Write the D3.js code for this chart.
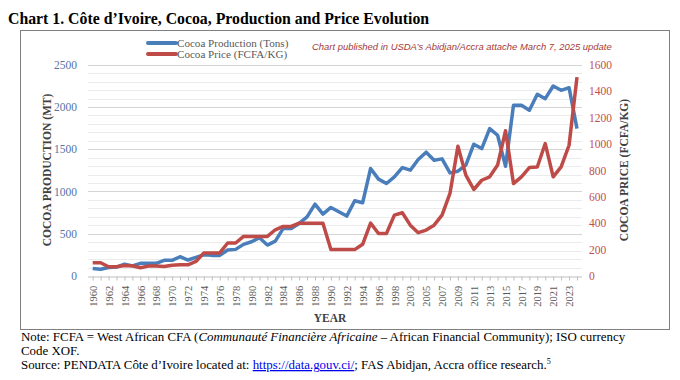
<!DOCTYPE html>
<html><head><meta charset="utf-8">
<script src="https://cdn.jsdelivr.net/npm/d3@7"></script>
<style>
body{margin:0;background:#fff;}
svg{display:block;}
</style></head>
<body>
<svg id="c" width="680" height="380"></svg>
<script>
const years = ["1960","1961","1962","1963","1964","1965","1966","1967","1968","1969",
"1970","1971","1972","1973","1974","1975","1976","1977","1978","1979",
"1980","1981","1982","1983","1984","1985","1986","1987","1988","1989",
"1990","1991","1992","1993","1994","1995","1996","1997","1998","1999",
"2003","2004","2005","2006","2007","2008","2009","2010","2011","2012",
"2013","2014","2015","2016","2017","2018","2019","2020","2021","2022","2023","2024"];
const production = [90,80,100,105,140,120,150,150,150,185,
185,228,189,220,250,244,244,307,315,374,
405,453,366,413,563,563,622,700,850,732,
811,760,709,890,866,1272,1146,1094,1173,1283,
1252,1378,1465,1370,1386,1220,1240,1311,1559,1508,
1744,1665,1299,2020,2020,1961,2150,2098,2248,2197,2228,1744];
const price = [100,100,70,70,80,78,62,75,75,72,
82,85,85,110,175,175,175,250,250,300,
300,300,300,350,375,375,400,400,400,400,
200,200,200,200,240,400,322,322,461,479,
385,328,348,385,461,625,983,764,655,725,
751,840,1100,700,751,821,825,1003,751,826,990,1506];
const leftTicks = [0,500,1000,1500,2000,2500];
const rightTicks = [0,200,400,600,800,1000,1200,1400,1600];
const seriesNames = ["Cocoa Production (Tons)","Cocoa Price (FCFA/KG)"];

const svg = d3.select("#c");
const serif = "'Liberation Serif','Times New Roman',serif";
const BLUE = "#4a7ebb", RED = "#be4b48";
const x0 = 92.7, x1 = 577, yTop = 64.7, yBot = 276;

const x = d3.scalePoint().domain(years).range([x0, x1]);
const yL = d3.scaleLinear().domain([0,2500]).range([yBot, yTop]);
const yR = d3.scaleLinear().domain([0,1600]).range([yBot, yTop]);

// title
svg.append("text").attr("x",8).attr("y",24).attr("font-family",serif)
  .attr("font-weight","bold").attr("font-size",15.8).attr("fill","#000")
  .text("Chart 1. Côte d’Ivoire, Cocoa, Production and Price Evolution");

// box
svg.append("rect").attr("x",20.5).attr("y",30.5).attr("width",649).attr("height",299)
  .attr("fill","none").attr("stroke","#7f7f7f").attr("stroke-width",1);

// gridlines
const gridVals = d3.range(100,2501,100);
svg.append("g").selectAll("line").data(gridVals).join("line")
  .attr("x1",88).attr("x2",582)
  .attr("y1",d=>Math.round(yL(d))+0.5).attr("y2",d=>Math.round(yL(d))+0.5)
  .attr("stroke",d=>d%500===0?"#d4d4d4":"#ebebeb").attr("stroke-width",1);

// x axis line & ticks
const gx = svg.append("g").attr("transform",`translate(0,${Math.round(yBot)+0.5})`);
const xAxis = d3.axisBottom(x).tickSize(4).tickFormat((d,i)=> i%2===0 ? d : "");
gx.call(xAxis);
gx.select(".domain").attr("stroke","#bfbfbf").attr("d",`M88,0.5H582`);
gx.selectAll(".tick line").attr("stroke","#bfbfbf");
gx.selectAll(".tick text").attr("font-family",serif).attr("font-size",10.5).attr("fill","#595959")
  .attr("transform","rotate(-90)").attr("text-anchor","end").attr("dx","-0.5em").attr("dy","0.35em").attr("x",-4).attr("y",0);

// left axis labels
const gl = svg.append("g").attr("transform","translate(80,0)");
gl.call(d3.axisLeft(yL).tickValues(leftTicks).tickSize(0).tickFormat(d3.format("d")));
gl.select(".domain").remove();
gl.selectAll(".tick text").attr("font-family",serif).attr("font-size",11.5).attr("fill","#5673a5");

// right axis labels
const gr = svg.append("g").attr("transform","translate(586,0)");
gr.call(d3.axisRight(yR).tickValues(rightTicks).tickSize(0).tickFormat(d3.format("d")));
gr.select(".domain").remove();
gr.selectAll(".tick text").attr("font-family",serif).attr("font-size",11.5).attr("fill","#c0504d");

// axis titles
svg.append("text").attr("transform","translate(51,170) rotate(-90)").attr("text-anchor","middle")
  .attr("font-family",serif).attr("font-weight","bold").attr("font-size",11.5).attr("fill","#404040")
  .text("COCOA PRODUCTION (MT)");
svg.append("text").attr("transform","translate(628,170) rotate(-90)").attr("text-anchor","middle")
  .attr("font-family",serif).attr("font-weight","bold").attr("font-size",11.5).attr("fill","#404040")
  .text("COCOA PRICE (FCFA/KG)");
svg.append("text").attr("x",330).attr("y",322).attr("text-anchor","middle")
  .attr("font-family",serif).attr("font-weight","bold").attr("font-size",11.5).attr("fill","#404040")
  .text("YEAR");

// lines
const lineL = d3.line().x((d,i)=>x(years[i])).y(d=>yL(d));
const lineR = d3.line().x((d,i)=>x(years[i])).y(d=>yR(d));
svg.append("path").datum(production).attr("d",lineL).attr("fill","none")
  .attr("stroke",BLUE).attr("stroke-width",3.5).attr("stroke-linejoin","round");
svg.append("path").datum(price).attr("d",lineR).attr("fill","none")
  .attr("stroke",RED).attr("stroke-width",3.5).attr("stroke-linejoin","round");

// legend
const leg = [[BLUE,seriesNames[0],43],[RED,seriesNames[1],54]];
leg.forEach(([c,t,yy])=>{
  svg.append("line").attr("x1",148).attr("x2",176).attr("y1",yy).attr("y2",yy)
    .attr("stroke",c).attr("stroke-width",4).attr("stroke-linecap","round");
  svg.append("text").attr("x",177).attr("y",yy+4).attr("font-family",serif).attr("font-size",11.1)
    .attr("fill","#595959").text(t);
});
svg.append("text").attr("x",312).attr("y",50).attr("font-family","'Liberation Sans',Arial,sans-serif")
  .attr("font-style","italic").attr("font-size",9.45).attr("fill","#a33a3a")
  .text("Chart published in USDA’s Abidjan/Accra attache March 7, 2025 update");

// notes
const fs = 12.9;
const note = svg.append("text").attr("x",21).attr("y",341).attr("font-family",serif).attr("font-size",fs).attr("fill","#000");
note.append("tspan").text("Note: FCFA = West African CFA (");
note.append("tspan").attr("font-style","italic").text("Communauté Financière Africaine");
note.append("tspan").text(" – African Financial Community); ISO currency");
svg.append("text").attr("x",21).attr("y",355).attr("font-family",serif).attr("font-size",fs).attr("fill","#000").text("Code XOF.");
const src = svg.append("text").attr("x",21).attr("y",369).attr("font-family",serif).attr("font-size",fs).attr("fill","#000");
src.append("tspan").text("Source: PENDATA Côte d’Ivoire located at: ");
src.append("tspan").attr("fill","#0000ee").attr("text-decoration","underline").text("https://data.gouv.ci/");
src.append("tspan").text("; FAS Abidjan, Accra office research.");
src.append("tspan").attr("font-size",8).attr("dy",-5).text("5");
</script>
</body></html>
